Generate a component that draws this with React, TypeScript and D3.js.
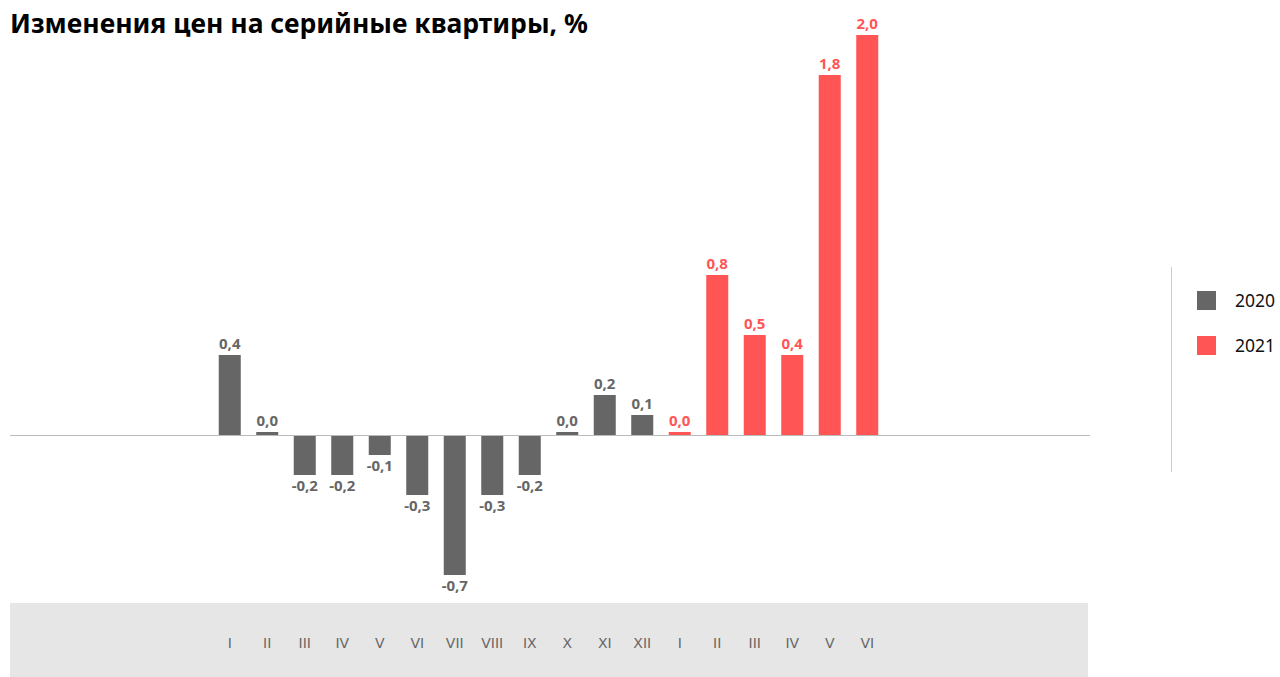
import React, { useEffect, useRef } from "react";
import * as d3 from "d3";

const title = "Изменения цен на серийные квартиры, %";
const months = ["I", "II", "III", "IV", "V", "VI", "VII", "VIII", "IX", "X", "XI", "XII", "I", "II", "III", "IV", "V", "VI"];
const years = ["2020", "2020", "2020", "2020", "2020", "2020", "2020", "2020", "2020", "2020", "2020", "2020", "2021", "2021", "2021", "2021", "2021", "2021"];
const values = [0.4, 0.015, -0.2, -0.2, -0.1, -0.3, -0.7, -0.3, -0.2, 0.015, 0.2, 0.1, 0.015, 0.8, 0.5, 0.4, 1.8, 2.0];
const seriesNames = ["2020", "2021"];
const seriesColors = ["#666666", "#ff5555"];

const W = 1280;
const H = 677;
const FONT = "'Noto Sans', 'Open Sans', sans-serif";
const AXIS_FONT = "'DejaVu Sans', sans-serif";

function App() {
  const svgRef = useRef<SVGSVGElement>(null);

  useEffect(() => {
    const svg = d3.select(svgRef.current);
    svg.selectAll("*").remove();

    const color = d3.scaleOrdinal<string, string>().domain(seriesNames).range(seriesColors);

    const x = d3.scaleBand<number>()
      .domain(d3.range(values.length))
      .range([200, 897])
      .paddingInner(0.413)
      .paddingOuter(0.5);

    // 2.0 sits at y=35, zero at y=435
    const y = d3.scaleLinear().domain([-0.7, 2.0]).range([575, 35]);

    svg.append("text")
      .attr("x", 10)
      .attr("y", 33)
      .attr("font-family", FONT)
      .attr("font-weight", 700)
      .attr("font-size", 26.5)
      .attr("fill", "#000")
      .text(title);

    // category band
    svg.append("rect")
      .attr("x", 10)
      .attr("y", 603)
      .attr("width", 1078)
      .attr("height", 74)
      .attr("fill", "#e6e6e6");

    svg.append("g")
      .selectAll("text")
      .data(months)
      .join("text")
      .attr("x", (d, i) => x(i)! + x.bandwidth() / 2)
      .attr("y", 648)
      .attr("text-anchor", "middle")
      .attr("font-family", AXIS_FONT)
      .attr("font-size", 14)
      .attr("fill", "#666")
      .text(d => d);

    const g = svg.append("g");

    g.selectAll("rect")
      .data(values)
      .join("rect")
      .attr("x", (d, i) => x(i)!)
      .attr("width", x.bandwidth())
      .attr("y", d => y(Math.max(0, d)))
      .attr("height", d => Math.abs(y(d) - y(0)))
      .attr("fill", (d, i) => color(years[i]));

    svg.append("line")
      .attr("x1", 10)
      .attr("x2", 1090)
      .attr("y1", y(0) + 0.5)
      .attr("y2", y(0) + 0.5)
      .attr("stroke", "#bbbbbb")
      .attr("stroke-width", 1);

    g.selectAll("text")
      .data(values)
      .join("text")
      .attr("x", (d, i) => x(i)! + x.bandwidth() / 2)
      .attr("y", d => d >= 0 ? y(d) - 6 : y(d) + 16)
      .attr("text-anchor", "middle")
      .attr("font-family", FONT)
      .attr("font-weight", 700)
      .attr("font-size", 15)
      .attr("fill", (d, i) => color(years[i]))
      .text(d => d3.format(".1f")(d).replace(".", ",").replace("−", "-"));

    // legend
    svg.append("line")
      .attr("x1", 1171.5)
      .attr("x2", 1171.5)
      .attr("y1", 267)
      .attr("y2", 472)
      .attr("stroke", "#cccccc");

    const leg = svg.append("g")
      .selectAll("g")
      .data(seriesNames)
      .join("g")
      .attr("transform", (d, i) => `translate(1197, ${291 + i * 45})`);

    leg.append("rect")
      .attr("width", 19)
      .attr("height", 19)
      .attr("fill", d => color(d));

    leg.append("text")
      .attr("x", 38)
      .attr("y", 16)
      .attr("font-family", FONT)
      .attr("font-size", 17.5)
      .attr("fill", "#111")
      .text(d => d);
  }, []);

  return (
    <svg
      ref={svgRef}
      width={W}
      height={H}
      style={{ position: "absolute", left: 0, top: 0, background: "#fff" }}
    />
  );
}

export default App;
